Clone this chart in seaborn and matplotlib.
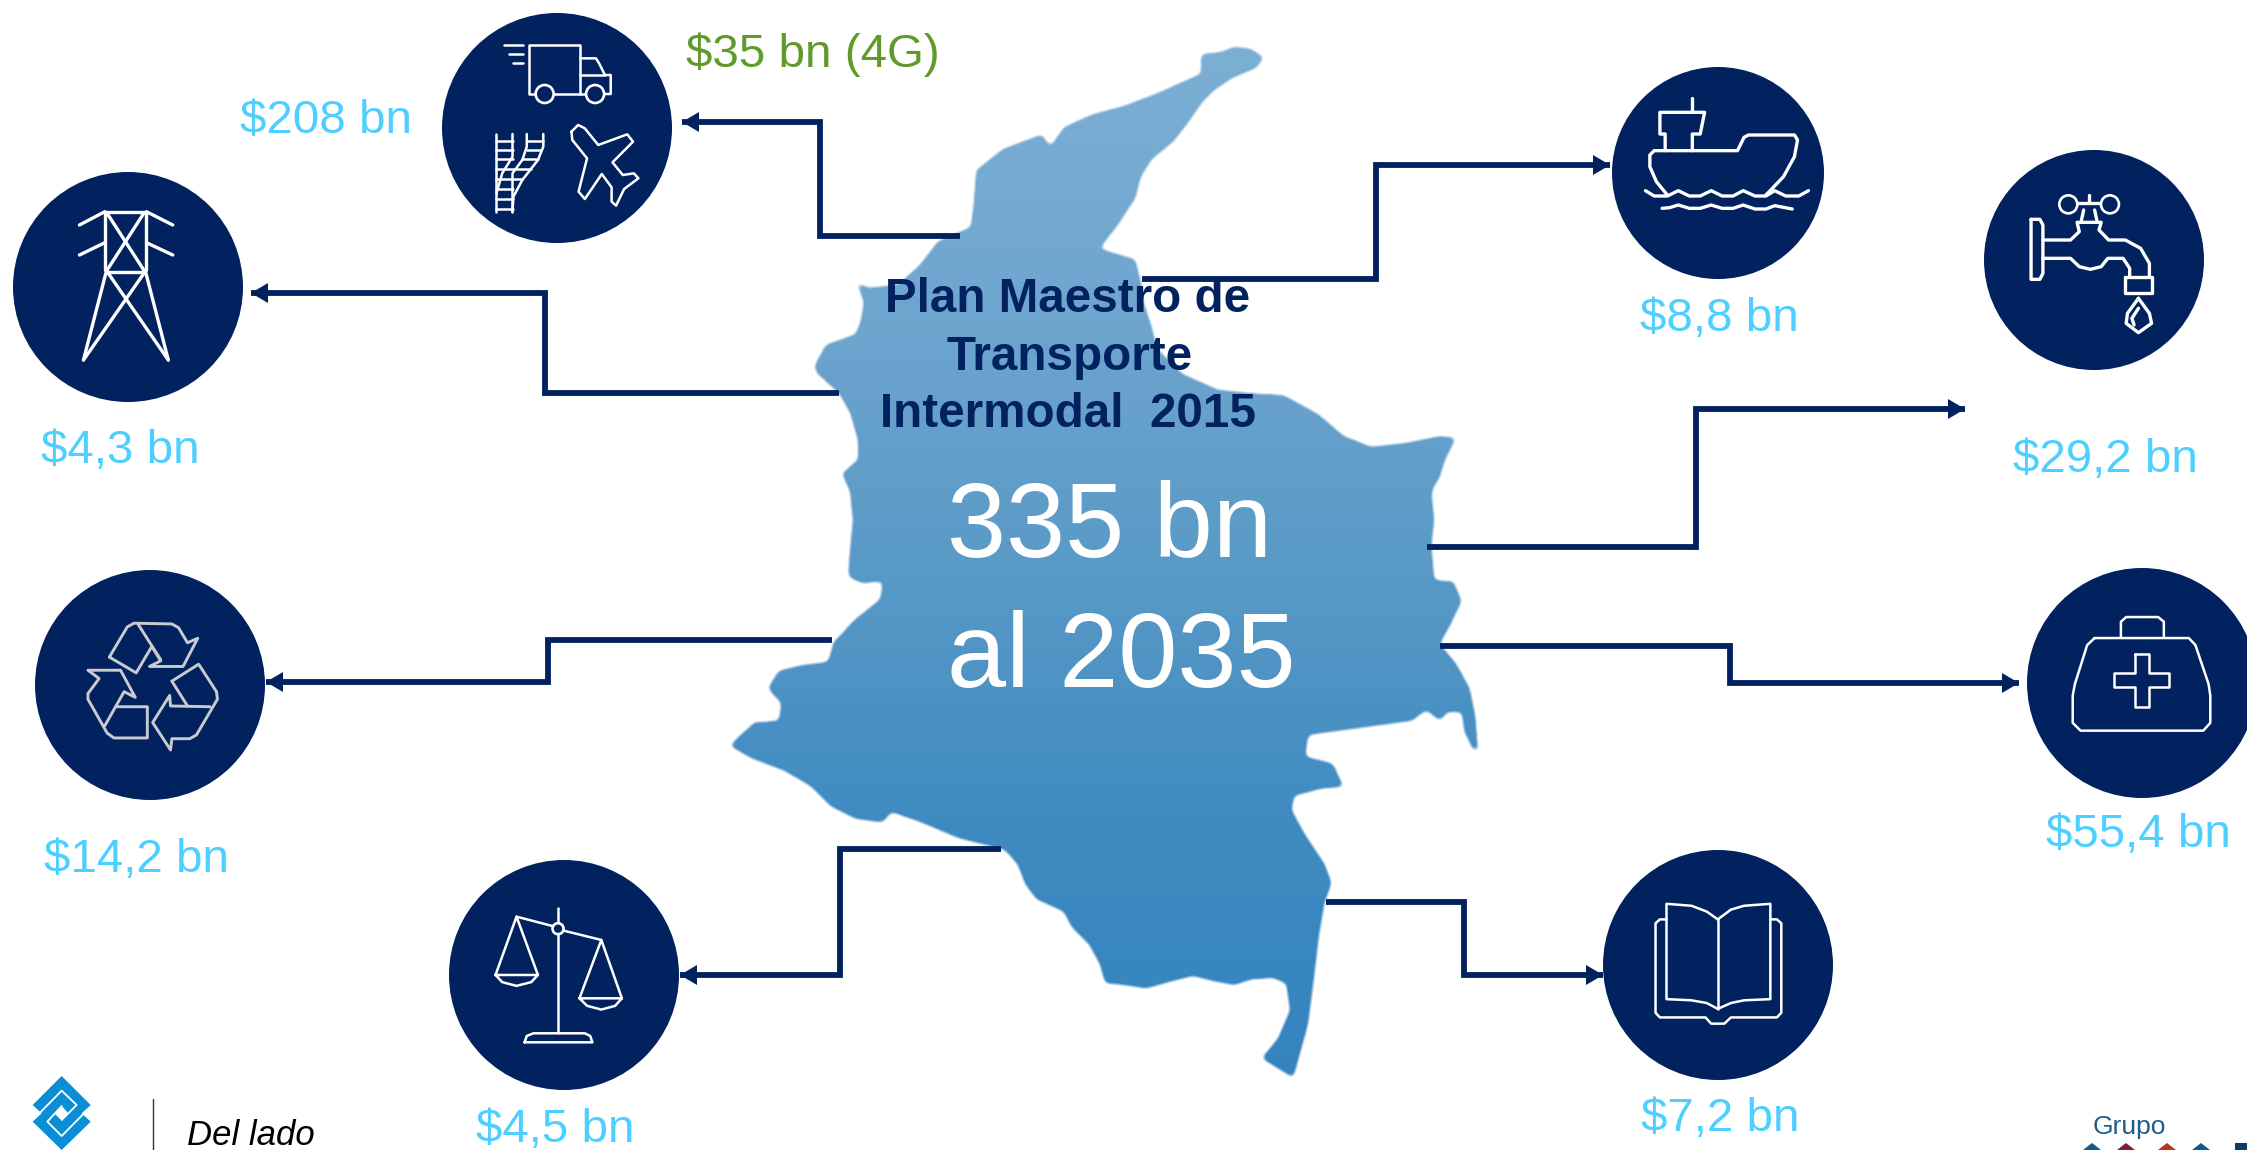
import numpy as np
import pandas as pd
import seaborn as sns
import matplotlib.pyplot as plt
from matplotlib.patches import Circle, Polygon
from matplotlib.path import Path

# datos
sectores = ['Transporte', 'Energia', 'Residuos', 'Justicia', 'Puertos', 'Agua', 'Salud', 'Educacion']
montos = ['$208 bn', '$4,3 bn', '$14,2 bn', '$4,5 bn', '$8,8 bn', '$29,2 bn', '$55,4 bn', '$7,2 bn']
monto_4g = '$35 bn (4G)'
titulo = ['Plan Maestro de', 'Transporte', 'Intermodal  2015']
total = ['335 bn', 'al 2035']

# layout, todo en pixeles de la imagen
circ_x = [557, 128, 150, 564, 1718, 2094, 2142, 1718]
circ_y = [128, 287, 685, 975, 173, 260, 683, 965]
circ_r = [115, 115, 115, 115, 106, 110, 115, 115]
monto_x = [326, 120, 137, 555, 1719, 2105, 2138, 1720]
monto_y = [133, 463, 872, 1142, 331, 472, 847, 1131]
rutas = [
    [(960, 236), (820, 236), (820, 122), (682, 122)],
    [(839, 393), (545, 393), (545, 293), (251, 293)],
    [(832, 640), (548, 640), (548, 682), (266, 682)],
    [(1001, 849), (840, 849), (840, 975), (680, 975)],
    [(1142, 279), (1376, 279), (1376, 165), (1610, 165)],
    [(1427, 547), (1696, 547), (1696, 409), (1965, 409)],
    [(1440, 646), (1730, 646), (1730, 683), (2019, 683)],
    [(1326, 902), (1464, 902), (1464, 975), (1603, 975)],
]

NAVY = '#01215F'
CIAN = '#4DCFFF'
VERDE = '#5F9A2A'


def vista(pts, x0, y0, sx, sy):
    return [(x0 + u / sx, y0 + v / sy) for u, v in pts]


def v1(pts):
    return vista(pts, 680, 20, 1.823, 2.8)


def v2(pts):
    return vista(pts, 680, 560, 1.823, 2.8)


def v3(pts):
    return vista(pts, 0, 0, 2.24, 3)


def v4(pts):
    return vista(pts, 0, 560, 2.24, 2.658)


def v5(pts):
    return vista(pts, 1560, 60, 2.282, 3)


def v6(pts):
    return vista(pts, 1560, 540, 2.282, 2.57)


def v8(pts):
    return vista(pts, 20, 1070, 3, 3)


# contorno del mapa
mapa = v1([(950, 95), (985, 90), (1010, 75), (1040, 80), (1065, 105), (1050, 135), (1010, 160), (975, 195),
           (950, 235), (925, 290), (900, 340), (860, 390), (840, 440), (830, 500), (800, 570), (765, 640),
           (790, 652), (830, 670), (840, 730), (845, 790), (860, 860), (870, 920), (915, 990), (980, 1035),
           (1040, 1045), (1100, 1050), (1165, 1105), (1210, 1165), (1260, 1195), (1320, 1185), (1385, 1165),
           (1415, 1170), (1395, 1230), (1385, 1280), (1370, 1320), (1375, 1400), (1370, 1470), (1375, 1568)])
mapa += v2([(1410, 60), (1425, 115), (1405, 180), (1385, 235), (1415, 290), (1440, 360), (1450, 440), (1455, 535),
            (1445, 530), (1430, 480), (1425, 425), (1400, 425), (1385, 450), (1360, 420), (1335, 450), (1240, 470),
            (1145, 490), (1140, 550), (1190, 570), (1210, 635), (1170, 640), (1120, 660), (1115, 700), (1140, 770),
            (1175, 850), (1188, 905), (1175, 960), (1165, 1050), (1155, 1180), (1145, 1300), (1118, 1450),
            (1060, 1395), (1090, 1340), (1112, 1260), (1105, 1185), (1080, 1170), (1040, 1175), (1010, 1190),
            (975, 1180), (935, 1165), (895, 1180), (850, 1200), (810, 1190), (775, 1185), (765, 1130), (745, 1075),
            (715, 1030), (700, 985), (650, 950), (630, 910), (615, 850), (590, 810), (510, 780), (440, 735),
            (385, 705), (370, 735), (320, 725), (275, 690), (240, 635), (190, 590), (130, 555), (90, 520),
            (135, 455), (180, 450), (185, 400), (160, 360), (180, 310), (220, 295), (270, 285), (280, 230),
            (320, 165), (365, 110), (370, 60), (330, 65), (305, 45), (315, 0)])
mapa += v1([(305, 1568), (315, 1400), (310, 1320), (295, 1270), (325, 1230), (325, 1180), (310, 1100), (290, 1045),
            (250, 990), (245, 970), (265, 910), (320, 880), (330, 840), (335, 790), (322, 735), (345, 750),
            (400, 740), (440, 680), (470, 620), (530, 580), (535, 520), (540, 420), (590, 360), (660, 320),
            (675, 355), (700, 300), (750, 265), (810, 240), (870, 205), (950, 150)])

# iconos: lineas blancas
iconos = [
    # camion
    v3([(1240, 282), (1300, 282), (1300, 135), (1185, 135), (1185, 282), (1200, 282)]),
    v3([(1300, 175), (1335, 175), (1342, 190), (1355, 225), (1368, 225), (1368, 282), (1352, 282)]),
    v3([(1300, 225), (1355, 225)]), v3([(1300, 282), (1312, 282)]),
    v3([(1130, 135), (1172, 135)]), v3([(1140, 162), (1172, 162)]), v3([(1150, 190), (1172, 190)]),
    # rieles
    v3([(1112, 402), (1112, 637)]), v3([(1148, 402), (1148, 470), (1125, 520), (1112, 580)]),
    v3([(1180, 402), (1180, 440), (1170, 480), (1148, 520), (1148, 637)]),
    v3([(1217, 402), (1217, 440), (1205, 480), (1170, 540), (1150, 590), (1148, 637)]),
    v3([(1112, 422), (1148, 422)]), v3([(1112, 450), (1148, 450)]), v3([(1112, 478), (1148, 478)]),
    v3([(1112, 508), (1190, 508)]), v3([(1112, 538), (1170, 538)]), v3([(1112, 568), (1148, 568)]),
    v3([(1112, 597), (1148, 597)]), v3([(1112, 628), (1148, 628)]),
    v3([(1180, 422), (1217, 422)]), v3([(1180, 450), (1212, 450)]), v3([(1170, 478), (1205, 478)]),
    # avion
    v3([(1280, 395), (1295, 375), (1310, 385), (1340, 435), (1405, 403), (1418, 425), (1372, 487), (1395, 525),
        (1420, 520), (1430, 535), (1398, 567), (1380, 617), (1370, 605), (1370, 562), (1348, 522), (1310, 597),
        (1296, 575), (1315, 475), (1282, 420), (1280, 395)]),
    # balanza
    v4([(1250, 925), (1250, 1258)]), v4([(1157, 948), (1238, 973)]), v4([(1262, 985), (1347, 1010)]),
    v4([(1205, 1103), (1157, 948), (1110, 1103), (1205, 1103), (1190, 1122), (1157, 1132), (1125, 1122), (1110, 1103)]),
    v4([(1393, 1165), (1347, 1010), (1298, 1165), (1393, 1165), (1378, 1185), (1347, 1195), (1315, 1185), (1298, 1165)]),
    v4([(1175, 1282), (1180, 1265), (1195, 1258), (1310, 1258), (1322, 1265), (1327, 1282), (1175, 1282)]),
    # maletin
    v6([(1280, 250), (1280, 210), (1292, 198), (1365, 198), (1378, 210), (1378, 250)]),
    v6([(1220, 252), (1435, 252), (1450, 270), (1480, 370), (1484, 400), (1484, 470), (1468, 490), (1188, 490),
        (1170, 470), (1170, 400), (1175, 370), (1203, 270), (1220, 252)]),
    v6([(1312, 292), (1343, 292), (1343, 342), (1390, 342), (1390, 377), (1343, 377), (1343, 428), (1312, 428),
        (1312, 377), (1265, 377), (1265, 342), (1312, 342), (1312, 292)]),
    # libro
    v6([(360, 975), (335, 955), (300, 940), (243, 935), (243, 1180), (300, 1183), (335, 1190), (360, 1205)]),
    v6([(360, 975), (390, 950), (420, 940), (480, 935), (480, 1180), (420, 1183), (390, 1190), (360, 1205)]),
    v6([(360, 975), (360, 1205)]),
    v6([(243, 975), (228, 975), (218, 985), (218, 1215), (228, 1227), (332, 1227), (345, 1243), (375, 1243),
        (390, 1227), (495, 1227), (505, 1215), (505, 985), (495, 975), (480, 975)]),
]

# los de trazo mas grueso
gruesos = [
    # torre
    v3([(235, 810), (235, 635), (327, 635), (327, 810)]),
    v3([(240, 640), (322, 810)]), v3([(322, 640), (240, 810)]), v3([(240, 815), (325, 815)]),
    v3([(238, 815), (187, 1080)]), v3([(326, 815), (377, 1080)]),
    v3([(240, 815), (377, 1080)]), v3([(325, 815), (187, 1080)]),
    v3([(235, 635), (178, 675)]), v3([(328, 635), (387, 675)]),
    v3([(235, 728), (178, 765)]), v3([(328, 728), (387, 765)]),
    # barco
    v5([(301, 115), (301, 157)]),
    v5([(240, 272), (240, 222), (228, 222), (228, 157), (330, 157), (320, 222), (302, 222), (302, 272)]),
    v5([(245, 405), (220, 365), (205, 320), (205, 285), (215, 272), (405, 272), (420, 232), (430, 225), (535, 225),
        (542, 240), (535, 290), (510, 350), (470, 405)]),
    v5([(195, 392), (215, 408), (245, 408), (270, 392), (295, 408), (320, 408), (345, 392), (370, 408), (395, 408),
        (418, 392), (445, 408), (470, 408), (490, 392), (515, 408), (545, 408), (567, 392)]),
    v5([(233, 445), (250, 443), (270, 435), (295, 445), (320, 445), (345, 435), (370, 445), (395, 445), (418, 435),
        (445, 447), (470, 447), (490, 437), (530, 447)]),
    # grifo
    v5([(1075, 478), (1095, 478), (1102, 495), (1102, 640), (1095, 658), (1075, 658), (1075, 478)]),
    v5([(1102, 540), (1165, 540), (1185, 515), (1180, 487), (1235, 487), (1230, 510), (1252, 540), (1290, 540),
        (1325, 565), (1345, 610), (1345, 650)]),
    v5([(1102, 595), (1165, 595), (1185, 620), (1210, 628), (1235, 620), (1250, 595), (1285, 595), (1300, 625),
        (1300, 650)]),
    v5([(1290, 650), (1350, 650), (1350, 700), (1290, 700), (1290, 650)]),
    v5([(1180, 430), (1235, 430)]), v5([(1195, 450), (1190, 480)]), v5([(1220, 450), (1225, 480)]),
    v5([(1207, 405), (1207, 430)]),
    v5([(1320, 715), (1345, 760), (1350, 790), (1320, 818), (1292, 790), (1295, 760), (1320, 715)]),
    v5([(1320, 745), (1305, 775), (1310, 795)]),
]

reciclaje = [
    v4([(245, 258), (285, 178), (300, 168), (385, 170), (400, 180), (420, 220), (443, 208), (410, 283), (335, 283),
        (360, 268), (340, 230), (305, 300), (245, 258)]),
    v4([(310, 172), (360, 265)]),
    v4([(385, 322), (445, 277), (485, 350), (487, 370), (440, 465), (425, 475), (385, 475), (382, 505), (342, 432),
        (380, 360), (382, 388), (470, 390)]),
    v4([(385, 322), (420, 388)]),
    v4([(235, 440), (278, 350), (303, 365), (270, 293), (197, 293), (222, 315), (197, 355), (197, 370), (240, 460),
        (255, 473), (330, 473), (330, 390), (262, 390)]),
]

sns.set_style('white')
plt.rcParams['font.family'] = ['Liberation Sans', 'DejaVu Sans']

fig = plt.figure(figsize=(22.47, 11.5), dpi=100)
ax = fig.add_axes([0, 0, 1, 1])

# mapa: degradado vertical con borde suavizado
xs = [p[0] for p in mapa]
ys = [p[1] for p in mapa]
x0, x1 = int(min(xs)) - 10, int(max(xs)) + 10
y0, y1 = int(min(ys)) - 10, int(max(ys)) + 10
gx, gy = np.meshgrid(np.arange(x0, x1) + 0.5, np.arange(y0, y1) + 0.5)
dentro = Path(mapa).contains_points(np.column_stack([gx.ravel(), gy.ravel()])).reshape(gx.shape).astype(float)
k = np.exp(-0.5 * (np.arange(-8, 9) / 3.0) ** 2)
k = k / k.sum()
blur = np.apply_along_axis(lambda f: np.convolve(f, k, mode='same'), 0, dentro)
blur = np.apply_along_axis(lambda f: np.convolve(f, k, mode='same'), 1, blur)
cmap = sns.blend_palette(['#7DAFD4', '#6FA6CF', '#5A9AC7', '#3F8BC1', '#3483BF'], as_cmap=True)
rgba = cmap((gy - y0) / (y1 - y0))
rgba[..., 3] = np.clip((blur - 0.3) / 0.4, 0, 1)
ax.imshow(rgba, aspect='auto', extent=(x0, x1, y1, y0), zorder=0)

# circulos
df = pd.DataFrame({'sector': sectores, 'x': circ_x, 'y': circ_y})
tam = [(2 * r * 0.72) ** 2 for r in circ_r]
sns.scatterplot(data=df, x='x', y='y', s=tam, color=NAVY, linewidth=0, ax=ax, zorder=2)

# conectores
for ruta in rutas:
    sns.lineplot(x=[p[0] for p in ruta], y=[p[1] for p in ruta], sort=False, estimator=None, color=NAVY,
                 linewidth=4.2, solid_joinstyle='miter', solid_capstyle='butt', ax=ax, zorder=3)
    (xa, ya), (xb, yb) = ruta[-2], ruta[-1]
    d = 1 if xb > xa else -1
    ax.fill([xb, xb - d * 17, xb - d * 17], [yb, yb - 10, yb + 10], color=NAVY, linewidth=0, zorder=3)

# iconos
for linea in iconos:
    ax.plot([p[0] for p in linea], [p[1] for p in linea], color='white', lw=1.8, zorder=4,
            solid_joinstyle='round', solid_capstyle='round')
for linea in gruesos:
    ax.plot([p[0] for p in linea], [p[1] for p in linea], color='white', lw=2.4, zorder=4,
            solid_joinstyle='round', solid_capstyle='round')
for linea in reciclaje:
    ax.plot([p[0] for p in linea], [p[1] for p in linea], color='#C9CBCF', lw=2.1, zorder=4,
            solid_joinstyle='round', solid_capstyle='round')
redondos = [v3([(1220, 282)])[0] + (9,), v3([(1333, 282)])[0] + (9,), v4([(1250, 980)])[0] + (5.5,),
            v5([(1160, 433)])[0] + (9,), v5([(1255, 433)])[0] + (9,)]
for cx, cy, r in redondos:
    ax.add_patch(Circle((cx, cy), r, facecolor=NAVY, edgecolor='white', lw=1.9, zorder=5))

# textos
for t, x, y in zip(montos, monto_x, monto_y):
    ax.text(x, y, t, color=CIAN, fontsize=34.2, ha='center', va='baseline', zorder=6)
ax.text(813, 67, monto_4g, color=VERDE, fontsize=34.2, ha='center', va='baseline', zorder=6)
for t, x, y in zip(titulo, [1068, 1070, 1068], [312, 370, 427]):
    ax.text(x, y, t, color=NAVY, fontsize=34.3, fontweight='bold', ha='center', va='baseline', zorder=6)
for t, y in zip(total, [557, 687]):
    ax.text(947, y, t, color='white', fontsize=76.5, ha='left', va='baseline', zorder=6)

# logo izquierda
logo = v8([(125, 18), (212, 105), (185, 130), (212, 155), (125, 240), (38, 155), (65, 130), (38, 105)])
ax.add_patch(Polygon(logo, closed=True, facecolor='#0A8FD6', edgecolor='none', zorder=4))
for linea in [[(60, 128), (125, 62), (170, 105), (125, 150)], [(190, 132), (125, 198), (82, 155), (125, 108)]]:
    pts = v8(linea)
    ax.plot([p[0] for p in pts], [p[1] for p in pts], color='white', lw=1.3, zorder=5)
ax.add_patch(Polygon(v8([(125, 108), (145, 130), (125, 152), (103, 130)]), closed=True, facecolor='white',
                     edgecolor='none', zorder=5))
ax.plot([153, 153], [1099, 1150], color='#333333', lw=1, zorder=4)
ax.text(187, 1145, 'Del lado', color='black', fontsize=25, fontstyle='italic', ha='left', va='baseline', zorder=6)

# logo derecha
ax.text(2129, 1134, 'Grupo', color='#1F5C8A', fontsize=19, ha='center', va='baseline', zorder=6)
for x, c in zip([2092, 2126, 2167, 2201], ['#135A8C', '#7A1F35', '#B5371F', '#135A8C']):
    ax.add_patch(Polygon([(x, 1143), (x + 18, 1157), (x - 18, 1157)], closed=True, facecolor=c, edgecolor='none',
                         zorder=4))
ax.add_patch(Polygon([(2235, 1143), (2247, 1143), (2247, 1150), (2235, 1150)], closed=True, facecolor='#0F3C66',
                     edgecolor='none', zorder=4))

ax.set_xlim(0, 2247)
ax.set_ylim(1150, 0)
ax.axis('off')
fig.savefig('out.png', dpi=100, facecolor='white')
